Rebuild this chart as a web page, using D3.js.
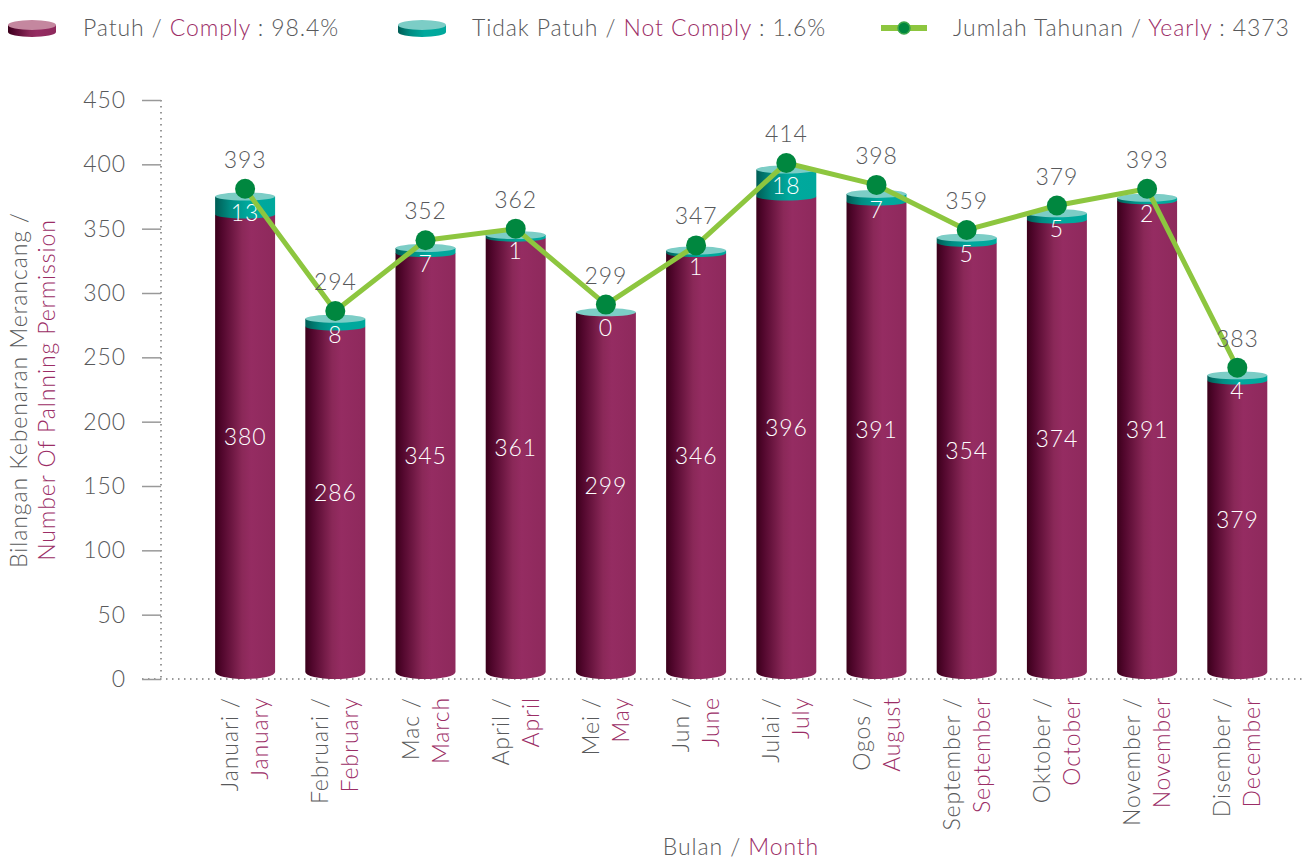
<!DOCTYPE html>
<html>
<head>
<meta charset="utf-8">
<script src="https://cdn.jsdelivr.net/npm/d3@7/dist/d3.min.js"></script>
<style>
  body { margin: 0; background: #fff; }
  svg { display: block; font-family: Lato, "Open Sans", sans-serif; font-weight: 300; }
  svg text { letter-spacing: 0.9px; }
</style>
</head>
<body>
<script>
// Month names, Malay / English
var monthsMy = ["Januari", "Februari", "Mac", "April", "Mei", "Jun", "Julai", "Ogos", "September", "Oktober", "November", "Disember"];
var monthsEn = ["January", "February", "March", "April", "May", "June", "July", "August", "September", "October", "November", "December"];

// Printed labels
var complyLabels = [380, 286, 345, 361, 299, 346, 396, 391, 354, 374, 391, 379];
var notComplyLabels = [13, 8, 7, 1, 0, 1, 18, 7, 5, 5, 2, 4];
var totalLabels = [393, 294, 352, 362, 299, 347, 414, 398, 359, 379, 393, 383];

// Heights as drawn in the original (they do not follow the labels exactly)
var complyDrawn = [361, 274, 331, 343, 285, 331, 375, 371, 339, 357, 372, 232];
var notComplyDrawn = [14, 6, 4, 2, 0, 2, 21, 6, 4, 5, 2, 4];
var totalDrawn = [381, 286, 341, 350, 291, 337, 401, 384, 349, 368, 381, 242];

var yTicks = [0, 50, 100, 150, 200, 250, 300, 350, 400, 450];

var gray = "#58595b", purple = "#9b2d66";
var fs = "23px";

var width = 1306, height = 862;
var y0 = 679, yTop = 100;

var svg = d3.select("body").append("svg")
  .attr("width", width)
  .attr("height", height);

// Gradients for the cylinders
var defs = svg.append("defs");
function hGrad(id, stops) {
  var g = defs.append("linearGradient").attr("id", id)
    .attr("x1", 0).attr("x2", 1).attr("y1", 0).attr("y2", 0);
  stops.forEach(function(s) {
    g.append("stop").attr("offset", s[0]).attr("stop-color", s[1]);
  });
}
hGrad("maroon", [["0%", "#3a001a"], ["12%", "#52072d"], ["45%", "#8a2858"], ["60%", "#952c62"], ["100%", "#8e295c"]]);
hGrad("teal", [["0%", "#005d55"], ["25%", "#008c82"], ["55%", "#00a99d"], ["100%", "#00a89c"]]);

// Scales
var x = d3.scaleBand()
  .domain(monthsMy)
  .range([200, 1282.4])
  .paddingInner(0.335)
  .paddingOuter(0.1675);

var y = d3.scaleLinear().domain([0, 450]).range([y0, yTop]);

// Y axis
var yAxis = d3.axisLeft(y)
  .tickValues(yTicks)
  .tickSize(19)
  .tickPadding(16);

var gy = svg.append("g")
  .attr("transform", "translate(161,0)")
  .call(yAxis);
gy.select(".domain").remove();
gy.selectAll(".tick line").attr("stroke", "#999").attr("stroke-width", 1.5);
gy.selectAll(".tick text")
  .attr("fill", gray)
  .style("font-size", fs)
  .style("font-family", "Lato, 'Open Sans', sans-serif")
  .style("font-weight", 300);

// dotted axis lines
svg.append("line")
  .attr("x1", 161).attr("x2", 161).attr("y1", yTop).attr("y2", y0)
  .attr("stroke", "#999").attr("stroke-width", 2)
  .attr("stroke-dasharray", "1.5,4.5");
svg.append("line")
  .attr("x1", 142).attr("x2", 1302).attr("y1", y0).attr("y2", y0)
  .attr("stroke", "#999").attr("stroke-width", 2)
  .attr("stroke-dasharray", "1.5,4.5");

// Cylinders
var rTop = 4, rBot = 7;
var bw = x.bandwidth();

var bars = svg.append("g").selectAll("g")
  .data(monthsMy)
  .enter().append("g");

bars.append("path")
  .attr("fill", "url(#maroon)")
  .attr("d", function(m, i) {
    var x0 = x(m), yt = y(complyDrawn[i]), yb = y0 - rBot;
    return "M" + x0 + "," + yt + "L" + x0 + "," + yb +
      "A" + bw / 2 + "," + rBot + " 0 0 0 " + (x0 + bw) + "," + yb +
      "L" + (x0 + bw) + "," + yt + "Z";
  });

bars.filter(function(m, i) { return notComplyDrawn[i] > 0; })
  .append("path")
  .attr("fill", "url(#teal)")
  .attr("d", function(m) {
    var i = monthsMy.indexOf(m);
    var x0 = x(m), yt = y(complyDrawn[i] + notComplyDrawn[i]), yb = y(complyDrawn[i]);
    return "M" + x0 + "," + yt + "L" + x0 + "," + yb +
      "A" + bw / 2 + "," + rTop + " 0 0 0 " + (x0 + bw) + "," + yb +
      "L" + (x0 + bw) + "," + yt + "Z";
  });

bars.append("ellipse")
  .attr("cx", function(m) { return x(m) + bw / 2; })
  .attr("cy", function(m, i) { return y(complyDrawn[i] + notComplyDrawn[i]); })
  .attr("rx", bw / 2)
  .attr("ry", rTop)
  .attr("fill", "#7ccdc6");

// white labels inside bars
bars.append("text")
  .attr("x", function(m) { return x(m) + bw / 2; })
  .attr("y", function(m, i) { return y(complyDrawn[i] / 2) - 10; })
  .attr("dy", "0.35em")
  .attr("text-anchor", "middle")
  .attr("fill", "#fff")
  .style("font-size", fs)
  .text(function(m, i) { return complyLabels[i]; });

bars.append("text")
  .attr("x", function(m) { return x(m) + bw / 2; })
  .attr("y", function(m, i) { return y(complyDrawn[i] + notComplyDrawn[i]) + 16; })
  .attr("dy", "0.35em")
  .attr("text-anchor", "middle")
  .attr("fill", "#fff")
  .style("font-size", fs)
  .text(function(m, i) { return notComplyLabels[i]; });

// Yearly total line
var line = d3.line()
  .x(function(m) { return x(m) + bw / 2; })
  .y(function(m, i) { return y(totalDrawn[i]); });

svg.append("path")
  .attr("d", line(monthsMy))
  .attr("fill", "none")
  .attr("stroke", "#8dc63f")
  .attr("stroke-width", 5)
  .attr("stroke-linejoin", "round");

svg.append("g").selectAll("circle")
  .data(monthsMy)
  .enter().append("circle")
  .attr("cx", function(m) { return x(m) + bw / 2; })
  .attr("cy", function(m, i) { return y(totalDrawn[i]); })
  .attr("r", 10)
  .attr("fill", "#00873f");

svg.append("g").selectAll("text")
  .data(monthsMy)
  .enter().append("text")
  .attr("x", function(m) { return x(m) + bw / 2; })
  .attr("y", function(m, i) { return y(totalDrawn[i]) - 29; })
  .attr("dy", "0.35em")
  .attr("text-anchor", "middle")
  .attr("fill", gray)
  .style("font-size", fs)
  .text(function(m, i) { return totalLabels[i]; });

// X axis labels (rotated, two lines)
var xl = svg.append("g").selectAll("g")
  .data(monthsMy)
  .enter().append("g")
  .attr("transform", function(m) { return "translate(" + (x(m) + bw / 2) + ",697) rotate(-90)"; });

xl.append("text")
  .attr("y", -15)
  .attr("dy", "0.35em")
  .attr("text-anchor", "end")
  .attr("fill", gray)
  .style("font-size", fs)
  .text(function(m) { return m + " /"; });

xl.append("text")
  .attr("y", 15)
  .attr("dy", "0.35em")
  .attr("text-anchor", "end")
  .attr("fill", purple)
  .style("font-size", fs)
  .text(function(m, i) { return monthsEn[i]; });

// Axis titles
var xt = svg.append("text")
  .attr("x", 741).attr("y", 855)
  .attr("text-anchor", "middle")
  .attr("fill", gray)
  .style("font-size", fs);
xt.append("tspan").text("Bulan / ");
xt.append("tspan").attr("fill", purple).text("Month");

var yt = svg.append("g").attr("transform", "translate(33,390) rotate(-90)");
yt.append("text")
  .attr("y", -14).attr("dy", "0.35em")
  .attr("text-anchor", "middle")
  .attr("fill", gray)
  .style("font-size", fs)
  .text("Bilangan Kebenaran Merancang /");
yt.append("text")
  .attr("y", 14).attr("dy", "0.35em")
  .attr("text-anchor", "middle")
  .attr("fill", purple)
  .style("font-size", fs)
  .text("Number Of Palnning Permission");

// Legend
var legend = svg.append("g");

function disc(cx, topFill, sideFill) {
  var rx = 24, cy = 25, th = 7;
  legend.append("path")
    .attr("fill", sideFill)
    .attr("d", "M" + (cx - rx) + "," + cy + "L" + (cx - rx) + "," + (cy + th) +
      "A" + rx + ",5 0 0 0 " + (cx + rx) + "," + (cy + th) +
      "L" + (cx + rx) + "," + cy + "Z");
  legend.append("ellipse")
    .attr("cx", cx).attr("cy", cy).attr("rx", rx).attr("ry", 5)
    .attr("fill", topFill);
}
disc(32, "#c4879f", "url(#maroon)");
disc(422, "#7ccdc6", "url(#teal)");

legend.append("line")
  .attr("x1", 881).attr("x2", 927).attr("y1", 28).attr("y2", 28)
  .attr("stroke", "#8dc63f").attr("stroke-width", 6);
legend.append("circle")
  .attr("cx", 904).attr("cy", 28).attr("r", 6)
  .attr("fill", "#00873f").attr("stroke", "#3aa64a").attr("stroke-width", 1.5);

var legendItems = [
  {x: 83, a: "Patuh / ", b: "Comply", c: " : 98.4%"},
  {x: 472, a: "Tidak Patuh / ", b: "Not Comply", c: " : 1.6%"},
  {x: 953, a: "Jumlah Tahunan / ", b: "Yearly", c: " : 4373"}
];
legendItems.forEach(function(d) {
  var t = legend.append("text")
    .attr("x", d.x).attr("y", 36)
    .attr("fill", gray)
    .style("font-size", fs);
  t.append("tspan").text(d.a);
  t.append("tspan").attr("fill", purple).text(d.b);
  t.append("tspan").text(d.c);
});
</script>
</body>
</html>
